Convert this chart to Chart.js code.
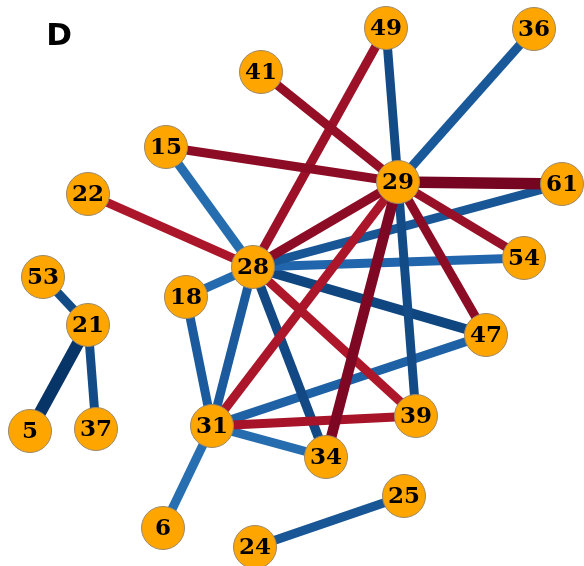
<!DOCTYPE html>
<html>
<head>
<meta charset="utf-8">
<script src="https://cdn.jsdelivr.net/npm/chart.js@4.4.1/dist/chart.umd.min.js"></script>
<style>
  html, body { margin: 0; padding: 0; background: #fff; }
  #wrap { width: 584px; height: 566px; position: relative; }
</style>
</head>
<body>
<div id="wrap"><canvas id="netChart"></canvas></div>
<script>
// ─── Data ──────────────────────────────────────────────────────
const panelLabel = 'D';

// node ids and their layout coordinates (layout space 0..584 x 0..566)
const nodeIds = ['49', '36', '41', '15', '29', '61', '22', '54', '53', '28', '18', '21', '47', '39', '31', '5', '37', '34', '25', '6', '24'];
const nodeX   = [386, 534, 261, 166, 398, 562, 88, 524, 43, 253, 186, 88, 486, 416, 212, 30, 96, 326, 404, 163, 255];
const nodeY   = [28, 29, 72, 147, 182, 184, 194, 258, 277, 267, 297, 325, 335, 416, 426, 431, 429, 457, 496, 528, 547];

// edges: source, target, correlation
const edgeFrom = ['29', '29', '41', '15', '49', '29', '29', '29', '22', '29', '31', '28',
                  '49', '36', '15', '29', '28', '28', '28', '28', '28', '28', '18', '31', '31', '31', '24', '53', '21', '21'];
const edgeTo   = ['61', '34', '29', '29', '28', '28', '47', '54', '28', '31', '39', '39',
                  '29', '29', '28', '39', '61', '54', '47', '18', '31', '34', '31', '47', '34', '6', '25', '21', '5', '37'];
const edgeCorr = [-0.96, -0.94, -0.88, -0.9, -0.86, -0.9, -0.9, -0.87, -0.82, -0.82, -0.83, -0.81,
                  0.9, 0.85, 0.77, 0.9, 0.86, 0.8, 0.92, 0.78, 0.84, 0.91, 0.84, 0.82, 0.77, 0.76, 0.86, 0.9, 0.98, 0.9];

// ─── Helpers ───────────────────────────────────────────────────
// matplotlib RdBu colormap stops
const rdbu = ['#67001f', '#b2182b', '#d6604d', '#f4a582', '#fddbc7', '#f7f7f7',
              '#d1e5f0', '#92c5de', '#4393c3', '#2166ac', '#053061'];

function hexToRgb(h) {
    return [parseInt(h.slice(1, 3), 16), parseInt(h.slice(3, 5), 16), parseInt(h.slice(5, 7), 16)];
}

function corrColor(c) {
    const t = Math.min(Math.max((c + 1) / 2, 0), 1) * (rdbu.length - 1);
    const i = Math.min(Math.floor(t), rdbu.length - 2);
    const f = t - i;
    const a = hexToRgb(rdbu[i]), b = hexToRgb(rdbu[i + 1]);
    const rgb = a.map((v, k) => Math.round(v + (b[k] - v) * f));
    return `rgb(${rgb.join(',')})`;
}

function corrWidth(c) {
    return Math.max(9, 9 + (Math.abs(c) - 0.9) * 40);
}

function nodePos(id) {
    const i = nodeIds.indexOf(id);
    return { x: nodeX[i], y: nodeY[i] };
}

// ─── Datasets ──────────────────────────────────────────────────
const edgeSets = edgeFrom.map((src, i) => ({
    type: 'scatter',
    data: [nodePos(src), nodePos(edgeTo[i])],
    showLine: true,
    borderColor: corrColor(edgeCorr[i]),
    borderWidth: corrWidth(edgeCorr[i]),
    borderCapStyle: 'butt',
    pointRadius: 0,
    pointHoverRadius: 0,
    clip: false,
    order: 2
}));

const nodeSet = {
    type: 'scatter',
    data: nodeIds.map((id, i) => ({ x: nodeX[i], y: nodeY[i] })),
    pointRadius: 21.5,
    pointHoverRadius: 21.5,
    backgroundColor: '#ffa500',
    borderColor: '#9c8865',
    borderWidth: 1,
    clip: false,
    order: 0
};

// ─── Label plugin ──────────────────────────────────────────────
const labelPlugin = {
    id: 'nodeLabels',
    afterDatasetsDraw(chart) {
        const ctx = chart.ctx;
        const meta = chart.getDatasetMeta(0);
        ctx.save();
        ctx.fillStyle = '#000';
        ctx.textAlign = 'center';
        ctx.textBaseline = 'middle';
        ctx.font = 'bold 23px "DejaVu Serif"';
        meta.data.forEach((pt, i) => {
            ctx.fillText(nodeIds[i], pt.x, pt.y + 1);
        });
        ctx.font = 'bold 31px "DejaVu Sans"';
        ctx.fillText(panelLabel, 59, 37);
        ctx.restore();
    }
};

// ─── Chart ─────────────────────────────────────────────────────
new Chart(document.getElementById('netChart'), {
    type: 'scatter',
    data: { datasets: [nodeSet, ...edgeSets] },
    options: {
        responsive: true,
        maintainAspectRatio: false,
        animation: false,
        layout: { padding: 0, autoPadding: false },
        plugins: { legend: { display: false }, tooltip: { enabled: false } },
        scales: {
            x: { type: 'linear', min: 0, max: 584, display: false },
            y: { type: 'linear', min: 0, max: 566, reverse: true, display: false }
        }
    },
    plugins: [labelPlugin]
});
</script>
</body>
</html>
